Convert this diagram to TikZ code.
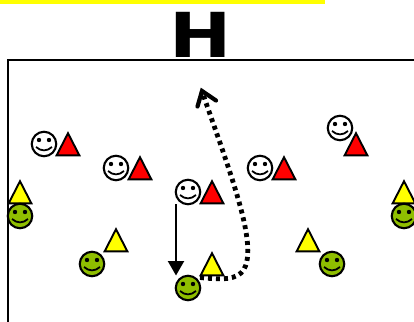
\documentclass[tikz,border=0pt]{standalone}
\usepackage{fontspec}
\setmainfont{DejaVu Sans}
\usetikzlibrary{arrows.meta,calc}
\definecolor{smilegreen}{HTML}{8FBE00}
\definecolor{tred}{HTML}{FF0000}
\definecolor{tyellow}{HTML}{FFFF00}
\tikzset{
  face/.style={circle,draw=black,line width=2.1pt,minimum size=24.5pt,inner sep=0pt},
  whiteface/.style={face,fill=white},
  greenface/.style={face,fill=smilegreen},
  tri/.style={draw=black,line width=1.9pt,line join=miter},
  redtri/.style={tri,fill=tred},
  yellowtri/.style={tri,fill=tyellow},
  eye/.style={fill=black},
  mouth/.style={draw=black,line width=1.8pt},
  frameline/.style={draw=black,line width=2.8pt},
  move/.style={draw=black,line width=2.2pt,-{Triangle[length=14.5pt,width=16pt]}},
  run/.style={draw=black,line width=4.8pt,dash pattern=on 4pt off 4pt},
  runhead/.style={draw=black,line width=4.2pt,line cap=round,line join=miter},
}
\newcommand{\smiley}[4]{%
  \node[#4] (#1) at (#2,#3) {};
  \fill[eye] ($(#1)+(-5,-4)$) circle (2.2);
  \fill[eye] ($(#1)+(5,-4)$) circle (2.2);
  \draw[mouth] ($(#1)+(-8,3)$) .. controls ($(#1)+(-3,7.5)$) and ($(#1)+(3,7.5)$) .. ($(#1)+(8,3)$);
}
\newcommand{\tria}[3]{%
  \draw[#3] (#1,#2+1.2) -- ++(11.4,22.2) -- ++(-22.8,0) -- cycle;
}
\begin{document}
\begin{tikzpicture}[x=1pt,y=-1pt]
\useasboundingbox (0,0) rectangle (414,321);
\clip (0,0) rectangle (414,321);
\fill[tyellow] (0,0) rectangle (325,3.6);
\node[inner sep=0pt,text=black] (title) at (200.5,34.5) {\scalebox{1.2}[1]{\fontsize{62pt}{62pt}\selectfont\bfseries H}};
\draw[frameline] (430,60) -- (8,60) -- (8,330);
% players
\tria{68}{132}{redtri}
\tria{140}{156}{redtri}
\tria{212}{180}{redtri}
\tria{284}{156}{redtri}
\tria{356}{132}{redtri}
\smiley{w1}{44}{144}{whiteface}
\smiley{w2}{116}{168}{whiteface}
\smiley{w3}{188}{192}{whiteface}
\smiley{w4}{260}{168}{whiteface}
\smiley{w5}{340}{128}{whiteface}
\tria{20}{180}{yellowtri}
\tria{116}{228}{yellowtri}
\tria{212}{252}{yellowtri}
\tria{308}{228}{yellowtri}
\tria{404}{180}{yellowtri}
\smiley{g1}{20}{216}{greenface}
\smiley{g2}{92}{264}{greenface}
\smiley{g3}{188}{288}{greenface}
\smiley{g4}{332}{264}{greenface}
\smiley{g5}{404}{216}{greenface}
% connectors
\coordinate (moveStart) at (176,204);
\coordinate (moveEnd) at (176,275.5);
\draw[move] (moveStart) -- (moveEnd);
\coordinate (runStart) at (200,277.5);
\coordinate (runTip) at (202,91);
\draw[run] (runStart) .. controls (215,279) and (232,281) .. (241,273)
  .. controls (249,265) and (249,250) .. (246,232)
  .. controls (240,195) and (215,130) .. (runTip);
\draw[runhead] (197.5,106.5) -- (runTip) -- (216,100.5);
\end{tikzpicture}
\end{document}
